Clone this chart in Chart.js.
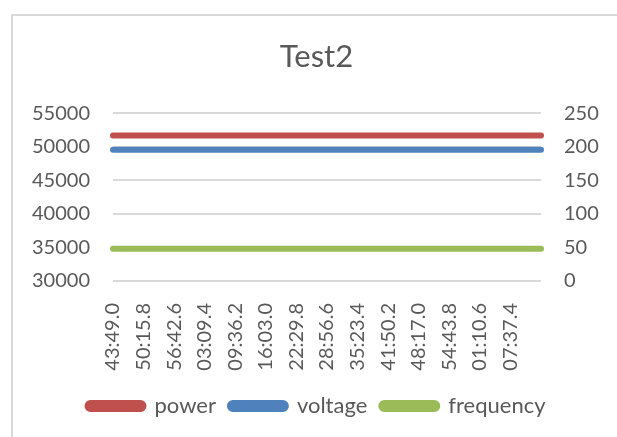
<!DOCTYPE html>
<html>
<head>
<meta charset="utf-8">
<script src="https://cdn.jsdelivr.net/npm/chart.js@4"></script>
<style>
  html, body { margin: 0; padding: 0; background: #fff; overflow: hidden; }
  #wrap { position: relative; width: 617px; height: 437px; overflow: hidden; }
  #frame { position: absolute; left: 11px; top: 14px; width: 700px; height: 500px;
           border: 2px solid #d9d9d9; box-sizing: border-box; pointer-events: none; }
  canvas { position: absolute; left: 0; top: 0; }
</style>
</head>
<body>
<div id="wrap">
  <div id="frame"></div>
  <canvas id="test2" width="633" height="437"></canvas>
</div>
<script>
// TEST2 CHART

const timeLabels = [
    "43:49.0", "50:15.8", "56:42.6", "03:09.4", "09:36.2", "16:03.0", "22:29.8",
    "28:56.6", "35:23.4", "41:50.2", "48:17.0", "54:43.8", "01:10.6", "07:37.4", "14:04.2",
];
const power = [51670, 51670, 51670, 51670, 51670, 51670, 51670, 51670, 51670, 51670, 51670, 51670, 51670, 51670, 51670];
const voltage = [195.5, 195.5, 195.5, 195.5, 195.5, 195.5, 195.5, 195.5, 195.5, 195.5, 195.5, 195.5, 195.5, 195.5, 195.5];
const frequency = [48, 48, 48, 48, 48, 48, 48, 48, 48, 48, 48, 48, 48, 48, 48];

const leftTicks = [30000, 35000, 40000, 45000, 50000, 55000];
const rightTicks = [0, 50, 100, 150, 200, 250];

const TEXT = "#595959";
const FONT = "Lato";

function line(label, data, color, axis) {
    return {
        label: label,
        data: data,
        yAxisID: axis,
        borderColor: color,
        backgroundColor: color,
        borderWidth: 6,
        borderCapStyle: "round",
        pointRadius: 0,
        tension: 0,
    };
}

const ctx = document.getElementById("test2").getContext("2d");

new Chart(ctx, {
    type: "line",
    data: {
        labels: timeLabels,
        datasets: [
            line("power", power, "#c0504d", "yLeft"),
            line("voltage", voltage, "#4f81bd", "yRight"),
            line("frequency", frequency, "#9bbb59", "yRight"),
        ],
    },
    options: {
        responsive: false,
        animation: false,
        layout: { padding: { top: 0, bottom: 10, left: 0, right: 0 } },
        plugins: {
            title: {
                display: true,
                text: "Test2",
                color: TEXT,
                font: { family: FONT, size: 31, weight: "normal" },
                padding: { top: 38, bottom: 38 },
            },
            legend: {
                position: "bottom",
                labels: {
                    color: TEXT,
                    font: { family: FONT, size: 22 },
                    boxWidth: 56,
                    boxHeight: 6,
                    useBorderRadius: true,
                    borderRadius: 3,
                    padding: 14,
                },
            },
            tooltip: { enabled: false },
        },
        scales: {
            x: {
                grid: { display: false },
                border: { display: false },
                ticks: {
                    autoSkip: false,
                    minRotation: 90,
                    maxRotation: 90,
                    padding: 14,
                    color: TEXT,
                    font: { family: FONT, size: 20 },
                    callback: (v, i) => (i < timeLabels.length - 1 ? timeLabels[i] : ""),
                },
                afterFit: (s) => { s.height = 100; },
            },
            yLeft: {
                position: "left",
                min: leftTicks[0],
                max: leftTicks[leftTicks.length - 1],
                border: { display: false },
                grid: { color: "#d9d9d9", lineWidth: 2, drawTicks: false, tickLength: 0 },
                ticks: {
                    stepSize: 5000,
                    padding: 23,
                    color: TEXT,
                    font: { family: FONT, size: 20 },
                    callback: (v) => String(v),
                },
                afterFit: (s) => { s.width = 113; },
            },
            yRight: {
                position: "right",
                min: rightTicks[0],
                max: rightTicks[rightTicks.length - 1],
                border: { display: false },
                grid: { display: false, drawTicks: false, tickLength: 0 },
                ticks: {
                    stepSize: 50,
                    padding: 23,
                    color: TEXT,
                    font: { family: FONT, size: 20 },
                    callback: (v) => String(v),
                },
                afterFit: (s) => { s.width = 92; },
            },
        },
    },
});
</script>
</body>
</html>
